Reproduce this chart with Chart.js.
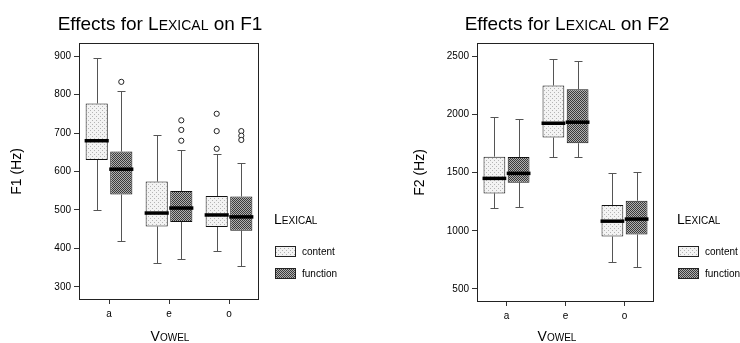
<!DOCTYPE html>
<html>
<head>
<meta charset="utf-8">
<script src="https://cdn.jsdelivr.net/npm/chart.js@4.4.0/dist/chart.umd.min.js"></script>
<style>
html, body { margin: 0; padding: 0; background: #fff; }
#wrap { position: relative; width: 740px; height: 343px; }
.panel { position: absolute; top: 0; width: 370px; height: 343px; }
</style>
</head>
<body>
<div id="wrap">
  <div class="panel" style="left:0"><canvas id="chartF1" width="370" height="343"></canvas></div>
  <div class="panel" style="left:370px"><canvas id="chartF2" width="370" height="343"></canvas></div>
</div>
<script>
const vowels = ["a", "e", "o"];
const lexical = ["content", "function"];

// five-number summaries per vowel: [min, q1, median, q3, max]
const f1Content = [[499, 630, 680, 777, 896], [362, 457, 492, 574, 696], [393, 456, 487, 536, 645]];
const f1Function = [[419, 540, 606, 652, 809], [373, 469, 505, 549, 657], [354, 446, 482, 535, 623]];
const f1ContentOutliers = [[], [], [750, 705, 659]];
const f1FunctionOutliers = [[833], [733, 708, 680], [705, 693, 682]];
const f1Ticks = [300, 400, 500, 600, 700, 800, 900];

const f2Content = [[1198, 1322, 1451, 1638, 1977], [1632, 1802, 1925, 2250, 2477], [733, 951, 1083, 1221, 1497]];
const f2Function = [[1207, 1414, 1494, 1635, 1960], [1632, 1753, 1934, 2218, 2457], [690, 968, 1101, 1259, 1509]];
const f2ContentOutliers = [[], [], []];
const f2FunctionOutliers = [[], [], []];
const f2Ticks = [500, 1000, 1500, 2000, 2500];

const FONT = "'Liberation Sans', Arial, sans-serif";

// stippled fills like the print
function makePattern(bg, fg, cells, size) {
    const c = document.createElement("canvas");
    c.width = size; c.height = size;
    const g = c.getContext("2d");
    g.fillStyle = bg;
    g.fillRect(0, 0, size, size);
    g.fillStyle = fg;
    cells.forEach(([x, y]) => g.fillRect(x, y, 1, 1));
    return g.createPattern(c, "repeat");
}
const contentFill = makePattern("#f3f3f3", "#b4b4b4", [[0, 0], [2, 2]], 4);
const functionFill = makePattern("#b0b0b0", "#3a3a3a", [[0, 0], [2, 0], [1, 1], [3, 1], [0, 2], [2, 2], [1, 3], [3, 3]], 4);

// draw text where lowercase letters of flagged parts become small capitals
function drawParts(ctx, parts, x, y, size, align) {
    const runs = [];
    parts.forEach(([text, caps]) => {
        if (!caps) { runs.push([text, size]); return; }
        for (const ch of text) {
            const up = ch === ch.toUpperCase();
            runs.push([ch.toUpperCase(), up ? size : Math.round(size * 0.72)]);
        }
    });
    let total = 0;
    runs.forEach(r => { ctx.font = r[1] + "px " + FONT; r.push(ctx.measureText(r[0]).width); total += r[2]; });
    let cx = align === "center" ? x - total / 2 : x;
    ctx.textAlign = "left";
    ctx.textBaseline = "alphabetic";
    runs.forEach(r => { ctx.font = r[1] + "px " + FONT; ctx.fillText(r[0], cx, y); cx += r[2]; });
}

const boxPlot = {
    id: "boxPlot",
    beforeDatasetsDraw(chart) {
        const { ctx, scales: { y } } = chart;
        ctx.save();
        ctx.strokeStyle = "#555";
        ctx.lineWidth = 1;
        chart.data.datasets.forEach((ds, i) => {
            chart.getDatasetMeta(i).data.forEach((bar, j) => {
                const s = ds.stats[j];
                const x = Math.round(bar.x) + 0.5;
                const lo = Math.round(y.getPixelForValue(s[0])) + 0.5;
                const hi = Math.round(y.getPixelForValue(s[4])) + 0.5;
                ctx.beginPath();
                ctx.moveTo(x, lo); ctx.lineTo(x, y.getPixelForValue(s[1]));
                ctx.moveTo(x, hi); ctx.lineTo(x, y.getPixelForValue(s[3]));
                ctx.moveTo(x - 4, lo); ctx.lineTo(x + 4, lo);
                ctx.moveTo(x - 4, hi); ctx.lineTo(x + 4, hi);
                ctx.stroke();
            });
        });
        ctx.restore();
    },
    afterDatasetsDraw(chart) {
        const { ctx, scales: { y } } = chart;
        ctx.save();
        chart.data.datasets.forEach((ds, i) => {
            chart.getDatasetMeta(i).data.forEach((bar, j) => {
                const s = ds.stats[j];
                const my = y.getPixelForValue(s[2]);
                ctx.strokeStyle = "#000";
                ctx.lineWidth = 3.5;
                ctx.beginPath();
                ctx.moveTo(bar.x - bar.width / 2 - 1, my);
                ctx.lineTo(bar.x + bar.width / 2 + 1, my);
                ctx.stroke();
                ctx.lineWidth = 1;
                ds.outliers[j].forEach(v => {
                    ctx.beginPath();
                    ctx.arc(bar.x, y.getPixelForValue(v), 2.6, 0, Math.PI * 2);
                    ctx.fillStyle = "#fff";
                    ctx.fill();
                    ctx.strokeStyle = "#222";
                    ctx.stroke();
                });
            });
        });
        ctx.restore();
    },
    afterDraw(chart, args, o) {
        const { ctx, chartArea: a } = chart;
        ctx.save();
        // plot frame
        ctx.strokeStyle = "#222";
        ctx.lineWidth = 1;
        ctx.strokeRect(Math.round(a.left) + 0.5, Math.round(a.top) + 0.5,
            Math.round(a.right - a.left) - 1, Math.round(a.bottom - a.top) - 1);

        ctx.fillStyle = "#000";
        drawParts(ctx, [["Effects for ", false], ["Lexical", true], [" on " + o.formant, false]], o.titleX, 30, 19, "center");
        drawParts(ctx, [["Vowel", true]], o.xTitleX, 341, 14, "center");
        drawParts(ctx, [["Lexical", true]], o.legendX, 224, 14, "left");
        [contentFill, functionFill].forEach((fill, k) => {
            const top = 246 + k * 22;
            ctx.fillStyle = fill;
            ctx.fillRect(o.legendX + 1, top, 21, 11);
            ctx.strokeStyle = "#222";
            ctx.lineWidth = 1;
            ctx.strokeRect(o.legendX + 1.5, top + 0.5, 20, 10);
            ctx.fillStyle = "#000";
            ctx.font = "10px " + FONT;
            ctx.textBaseline = "middle";
            ctx.fillText(lexical[k], o.legendX + 28, top + 6);
        });
        ctx.restore();
    }
};

function makeChart(id, cfg) {
    const datasets = [
        { label: lexical[0], stats: cfg.content, outliers: cfg.contentOut, backgroundColor: contentFill },
        { label: lexical[1], stats: cfg.func, outliers: cfg.funcOut, backgroundColor: functionFill }
    ].map(d => Object.assign(d, {
        data: d.stats.map(s => [s[1], s[3]]),
        borderColor: "#111",
        borderWidth: 1,
        borderSkipped: false,
        categoryPercentage: 0.82,
        barPercentage: 0.9
    }));

    new Chart(document.getElementById(id), {
        type: "bar",
        data: { labels: vowels, datasets: datasets },
        plugins: [boxPlot],
        options: {
            responsive: false,
            animation: false,
            layout: { padding: { left: cfg.padLeft, top: 43, right: 370 - cfg.plotRight, bottom: 0 } },
            plugins: {
                legend: { display: false },
                tooltip: { enabled: false },
                boxPlot: { formant: cfg.formant, titleX: cfg.titleX, xTitleX: cfg.xTitleX, legendX: cfg.legendX }
            },
            scales: {
                x: {
                    grid: { display: true, offset: false, drawOnChartArea: false, drawTicks: true, tickLength: 4, color: "#333" },
                    border: { display: false },
                    ticks: { color: "#000", font: { family: FONT, size: 10 }, padding: 4 },
                    afterFit: s => { s.height = 343 - cfg.plotBottom; }
                },
                y: {
                    min: cfg.yMin,
                    max: cfg.yMax,
                    grid: { display: true, drawOnChartArea: false, drawTicks: true, tickLength: 5, color: "#333" },
                    border: { display: false },
                    ticks: { color: "#000", font: { family: FONT, size: 10 }, padding: 3, callback: v => String(v) },
                    afterBuildTicks: s => { s.ticks = cfg.ticks.map(v => ({ value: v })); },
                    afterFit: s => { s.width = cfg.plotLeft - cfg.padLeft; },
                    title: { display: true, text: cfg.formant + " (Hz)", color: "#000", padding: 0, font: { family: FONT, size: 14 } }
                }
            }
        }
    });
}

makeChart("chartF1", {
    formant: "F1", content: f1Content, func: f1Function,
    contentOut: f1ContentOutliers, funcOut: f1FunctionOutliers, ticks: f1Ticks,
    yMin: 266, yMax: 934, padLeft: 9, plotLeft: 79, plotRight: 259, plotBottom: 300,
    titleX: 160, xTitleX: 170, legendX: 274
});
makeChart("chartF2", {
    formant: "F2", content: f2Content, func: f2Function,
    contentOut: f2ContentOutliers, funcOut: f2FunctionOutliers, ticks: f2Ticks,
    yMin: 388, yMax: 2615, padLeft: 42, plotLeft: 107, plotRight: 284, plotBottom: 302,
    titleX: 197, xTitleX: 187, legendX: 307
});
</script>
</body>
</html>
